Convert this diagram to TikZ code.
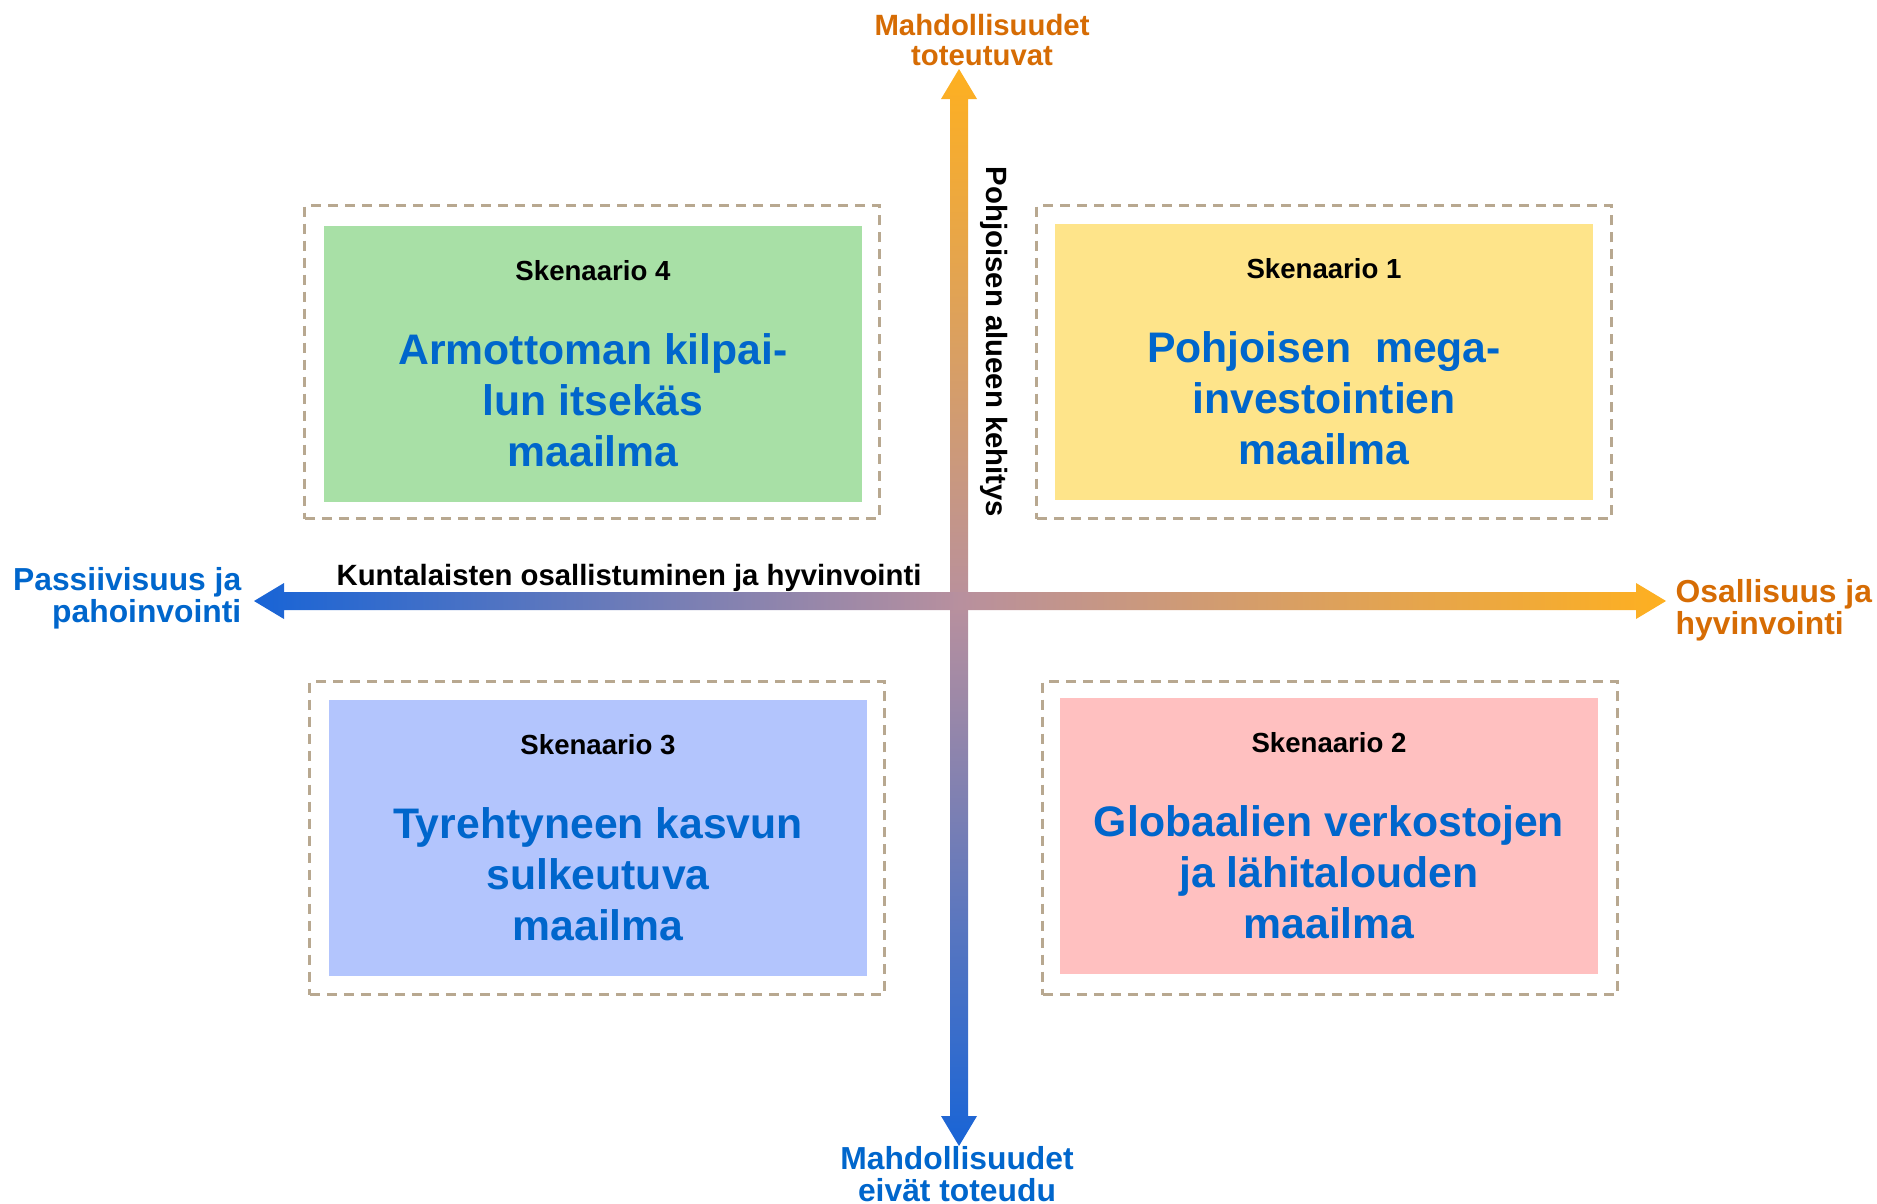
\documentclass[tikz,border=0pt]{standalone}
\usepackage{fontspec}
\setmainfont{Liberation Sans}
\usetikzlibrary{calc}
\definecolor{axorange}{RGB}{254,176,32}
\definecolor{axblue}{RGB}{24,100,214}
\definecolor{axmid}{RGB}{184,144,158}
\definecolor{txorange}{RGB}{214,108,4}
\definecolor{txblue}{RGB}{0,102,204}
\definecolor{frametan}{RGB}{184,168,144}
\definecolor{sgreen}{RGB}{168,224,166}
\definecolor{syellow}{RGB}{254,228,138}
\definecolor{sblue}{RGB}{179,197,253}
\definecolor{spink}{RGB}{255,192,192}
\tikzset{
  scframe/.style={draw=frametan, line width=0.028cm, dash pattern=on 0.1cm off 0.07cm,
    minimum width=5.74cm, minimum height=3.13cm, inner sep=0pt},
  scen/.style={minimum width=5.38cm, minimum height=2.75cm, inner sep=0pt},
  skn/.style={font=\bfseries\fontsize{0.276cm}{0.33cm}\selectfont, inner sep=0pt, anchor=base},
  ttl/.style={font=\bfseries\fontsize{0.427cm}{0.51cm}\selectfont, text=txblue, align=center, inner sep=0pt},
  axlbl/.style={font=\bfseries\fontsize{0.318cm}{0.32cm}\selectfont, inner sep=0pt},
  axname/.style={font=\bfseries\fontsize{0.293cm}{0.3cm}\selectfont, inner sep=0pt}
}
\begin{document}
\begin{tikzpicture}[x=0.01cm, y=-0.01cm]
\useasboundingbox (0,0) rectangle (1877,1203);

\coordinate (Nt) at (959,69);
\coordinate (Sb) at (959,1146);
\coordinate (Wl) at (254,601);
\coordinate (Er) at (1666,601);

\shade[top color=axorange, bottom color=axblue, middle color=axmid]
  (Nt) -- ++(18,30) -- ++(-9,0) -- ($(Sb)+(9,-30)$) -- ++(9,0) -- (Sb) -- ++(-18,-30)
  -- ++(9,0) -- ($(Nt)+(-9,30)$) -- ++(-9,0) -- cycle;
\shade[left color=axblue, right color=axorange, middle color=axmid]
  (Wl) -- ++(30,-18) -- ++(0,9) -- ($(Er)+(-30,-9)$) -- ++(0,-9) -- (Er) -- ++(-30,18)
  -- ++(0,-9) -- ($(Wl)+(30,9)$) -- ++(0,9) -- cycle;

\node[axlbl, text=txorange, align=center, font=\bfseries\fontsize{0.293cm}{0.30cm}\selectfont] (Lt) at (982,40) {Mahdollisuudet\\toteutuvat};
\node[axlbl, text=txblue, align=center] (Lb) at (957,1174) {Mahdollisuudet\\eivät toteudu};
\node[axlbl, text=txblue, align=right, anchor=east] (Ll) at (242,598) {Passiivisuus ja\\pahoinvointi};
\node[axlbl, text=txorange, align=left, anchor=west] (Lr) at (1675,610) {Osallisuus ja\\hyvinvointi};
\node[axname, rotate=-90] (Ly) at (994,342) {Pohjoisen alueen kehitys};
\node[axname, anchor=base] (Lx) at (629,585) {Kuntalaisten osallistuminen ja hyvinvointi};

\node[scframe] (F4) at (592,362) {};
\node[scen, fill=sgreen] (S4) at (593,364) {};
\node[skn] (K4) at ($(S4.north)+(0,55)$) {Skenaario 4};
\node[ttl] (T4) at ($(S4.center)+(0,36)$) {Armottoman kilpai-\\lun itsekäs\\maailma};

\node[scframe] (F1) at (1324,362) {};
\node[scen, fill=syellow] (S1) at (1324,362) {};
\node[skn] (K1) at ($(S1.north)+(0,55)$) {Skenaario 1};
\node[ttl] (T1) at ($(S1.center)+(0,36)$) {Pohjoisen\ \ mega-\\investointien\\maailma};

\node[scframe] (F3) at (597,838) {};
\node[scen, fill=sblue] (S3) at (598,838) {};
\node[skn] (K3) at ($(S3.north)+(0,55)$) {Skenaario 3};
\node[ttl] (T3) at ($(S3.center)+(0,36)$) {Tyrehtyneen kasvun\\sulkeutuva\\maailma};

\node[scframe] (F2) at (1330,838) {};
\node[scen, fill=spink] (S2) at (1329,836) {};
\node[skn] (K2) at ($(S2.north)+(0,55)$) {Skenaario 2};
\node[ttl] (T2) at ($(S2.center)+(0,36)$) {Globaalien verkostojen\\ja lähitalouden\\maailma};
\end{tikzpicture}
\end{document}
